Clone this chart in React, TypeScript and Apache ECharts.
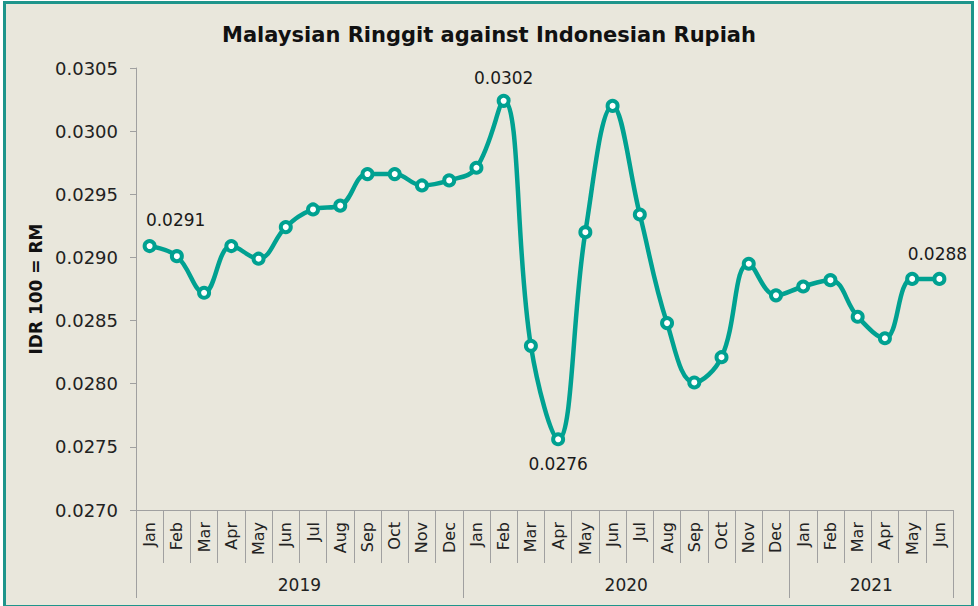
import React, { useEffect, useRef } from "react";
import * as echarts from "echarts";

const months = [
  "Jan", "Feb", "Mar", "Apr", "May", "Jun", "Jul", "Aug", "Sep", "Oct", "Nov", "Dec",
  "Jan", "Feb", "Mar", "Apr", "May", "Jun", "Jul", "Aug", "Sep", "Oct", "Nov", "Dec",
  "Jan", "Feb", "Mar", "Apr", "May", "Jun",
];
const years = ["2019", "2020", "2021"];
const monthsPerYear = [12, 12, 6];
const values = [
  0.02909, 0.02901, 0.02872, 0.02909, 0.02899, 0.02924, 0.02938, 0.02941, 0.02966, 0.02966, 0.02957, 0.02961,
  0.02971, 0.03024, 0.0283, 0.02756, 0.0292, 0.0302, 0.02934, 0.02848, 0.02801, 0.02821, 0.02895, 0.0287,
  0.02877, 0.02882, 0.02853, 0.02836, 0.02883, 0.02883,
];
const yTicks = { min: 0.027, max: 0.0305, interval: 0.0005 };
const labelled: Record<number, { position: string; offset: number[] }> = {
  0: { position: "top", offset: [26, -6] },
  13: { position: "top", offset: [0, -2] },
  15: { position: "bottom", offset: [0, 4] },
  29: { position: "top", offset: [-2, -4] },
};

const TEAL = "#00A191";
const AXIS = "#A0A0A0";
const FONT = "DejaVu Sans";

export default function App() {
  const ref = useRef<HTMLDivElement>(null);
  useEffect(() => {
    if (!ref.current) return;
    const chart = echarts.init(ref.current, undefined, { renderer: "svg" });

    const totalHalf = months.length * 2;
    const halfCats: string[] = new Array(totalHalf + 1).fill("");
    const tickIdx: number[] = [0];
    const labelIdx: number[] = [];
    let acc = 0;
    years.forEach((y, i) => {
      const mid = acc + monthsPerYear[i];
      halfCats[mid] = y;
      labelIdx.push(mid);
      acc += monthsPerYear[i] * 2;
      tickIdx.push(acc);
    });

    const data = values.map((v, i) =>
      labelled[i]
        ? {
            value: v,
            label: {
              show: true,
              position: labelled[i].position,
              offset: labelled[i].offset,
              formatter: (p: any) => Number(p.value).toFixed(4),
              fontSize: 17,
              color: "#1a1a1a",
              fontFamily: FONT,
            },
          }
        : v
    );

    chart.setOption({
      animation: false,
      textStyle: { fontFamily: FONT },
      title: {
        text: "Malaysian Ringgit against Indonesian Rupiah",
        left: "center",
        top: 19,
        textStyle: { fontSize: 21, fontWeight: "bold", color: "#111", fontFamily: FONT },
      },
      grid: { left: 136, right: 25, top: 68, bottom: 96, containLabel: false },
      xAxis: [
        {
          type: "category",
          data: months,
          boundaryGap: true,
          position: "bottom",
          axisLine: { show: true, lineStyle: { color: AXIS, width: 1 } },
          axisTick: { show: true, interval: 0, length: 53, lineStyle: { color: AXIS } },
          axisLabel: { interval: 0, rotate: 90, margin: 12, fontSize: 16, color: "#222" },
        },
        {
          type: "category",
          data: halfCats,
          boundaryGap: false,
          position: "bottom",
          offset: 0,
          axisLine: { show: false },
          axisTick: {
            show: true,
            length: 88,
            interval: (idx: number) => tickIdx.includes(idx),
            lineStyle: { color: AXIS },
          },
          axisLabel: {
            show: true,
            interval: (idx: number) => labelIdx.includes(idx),
            margin: 66,
            fontSize: 17,
            color: "#222",
          },
        },
      ],
      yAxis: {
        type: "value",
        min: yTicks.min,
        max: yTicks.max,
        interval: yTicks.interval,
        name: "IDR 100 = RM",
        nameLocation: "middle",
        nameGap: 89,
        nameTextStyle: { fontSize: 17, fontWeight: "bold", color: "#111" },
        axisLine: { show: true, lineStyle: { color: AXIS } },
        axisTick: { show: true, length: 6, lineStyle: { color: AXIS } },
        splitLine: { show: false },
        axisLabel: {
          margin: 18,
          fontSize: 18,
          color: "#222",
          formatter: (v: number) => v.toFixed(4),
        },
      },
      series: [
        {
          type: "line",
          xAxisIndex: 0,
          data,
          smooth: 0.4,
          symbol: "circle",
          symbolSize: 10,
          lineStyle: { color: TEAL, width: 4.5 },
          itemStyle: { color: "#ffffff", borderColor: TEAL, borderWidth: 4 },
        },
      ],
    });
    return () => chart.dispose();
  }, []);

  return (
    <div style={{ position: "fixed", left: 0, top: 0, width: 978, height: 606, background: "#ffffff" }}>
      <div
        style={{
          position: "absolute",
          left: 3,
          top: 1,
          width: 971,
          height: 605,
          border: "3px solid #1E958B",
          borderBottomWidth: 1,
          boxSizing: "border-box",
          background: "#E9E7DC",
        }}
      />
      <div ref={ref} style={{ position: "absolute", left: 0, top: 0, width: 978, height: 606 }} />
    </div>
  );
}
